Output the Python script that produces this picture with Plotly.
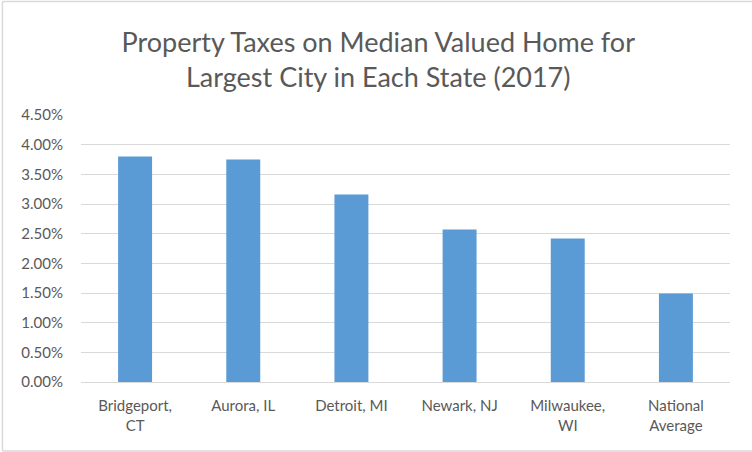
import plotly.graph_objects as go

categories = ["Bridgeport,<br>CT", "Aurora, IL", "Detroit, MI", "Newark, NJ", "Milwaukee,<br>WI", "National<br>Average"]
tax_rates = [0.0380, 0.0375, 0.0316, 0.0257, 0.0242, 0.0149]
y_ticks = [0.0, 0.005, 0.01, 0.015, 0.02, 0.025, 0.03, 0.035, 0.04, 0.045]

FONT = "Lato, Open Sans, sans-serif"
GRAY = "#595959"
BORDER = "#d9d9d9"

fig = go.Figure(go.Bar(
    x=categories, y=tax_rates,
    marker=dict(color="#5b9bd5", line=dict(width=0)),
    hoverinfo="x+y",
))

# chart-area border (top, left, bottom edges visible in the reference)
bx0, bx1, by0, by1 = -0.121, 1.2, -0.258, 1.425
border = [
    dict(x0=bx0, x1=bx1, y0=by1, y1=by1),
    dict(x0=bx0, x1=bx0, y0=by0, y1=by1),
    dict(x0=bx0, x1=bx1, y0=by0, y1=by0),
]
shapes = [dict(type="line", xref="paper", yref="paper", layer="below",
               line=dict(color=BORDER, width=1.5), **b) for b in border]

fig.update_layout(
    width=752, height=452,
    margin=dict(l=81, r=22, t=115, b=70),
    paper_bgcolor="white", plot_bgcolor="white",
    bargap=0.686,
    showlegend=False,
    title=dict(
        text="Property Taxes on Median Valued Home for<br>Largest City in Each State (2017)",
        x=0.503, xanchor="center", xref="container",
        y=0.885, yanchor="top", yref="container",
        font=dict(family=FONT, size=27, color=GRAY),
    ),
    font=dict(family=FONT, size=15, color=GRAY),
    xaxis=dict(
        showgrid=False, showline=False, zeroline=False, ticks="",
        ticklabelstandoff=13,
        tickfont=dict(family=FONT, size=15, color=GRAY),
    ),
    yaxis=dict(
        range=[0, 0.045], tickvals=y_ticks, tickformat=".2%",
        showgrid=True, gridcolor=BORDER, gridwidth=1,
        zeroline=True, zerolinecolor=BORDER, zerolinewidth=1,
        showline=False, ticks="", ticklen=0,
        ticklabelstandoff=17,
        tickfont=dict(family=FONT, size=15, color=GRAY),
    ),
    shapes=shapes,
)

fig.write_html(
    "out.html",
    config={"displayModeBar": False},
    post_script="document.body.style.margin='0';document.body.style.overflow='hidden';",
)
